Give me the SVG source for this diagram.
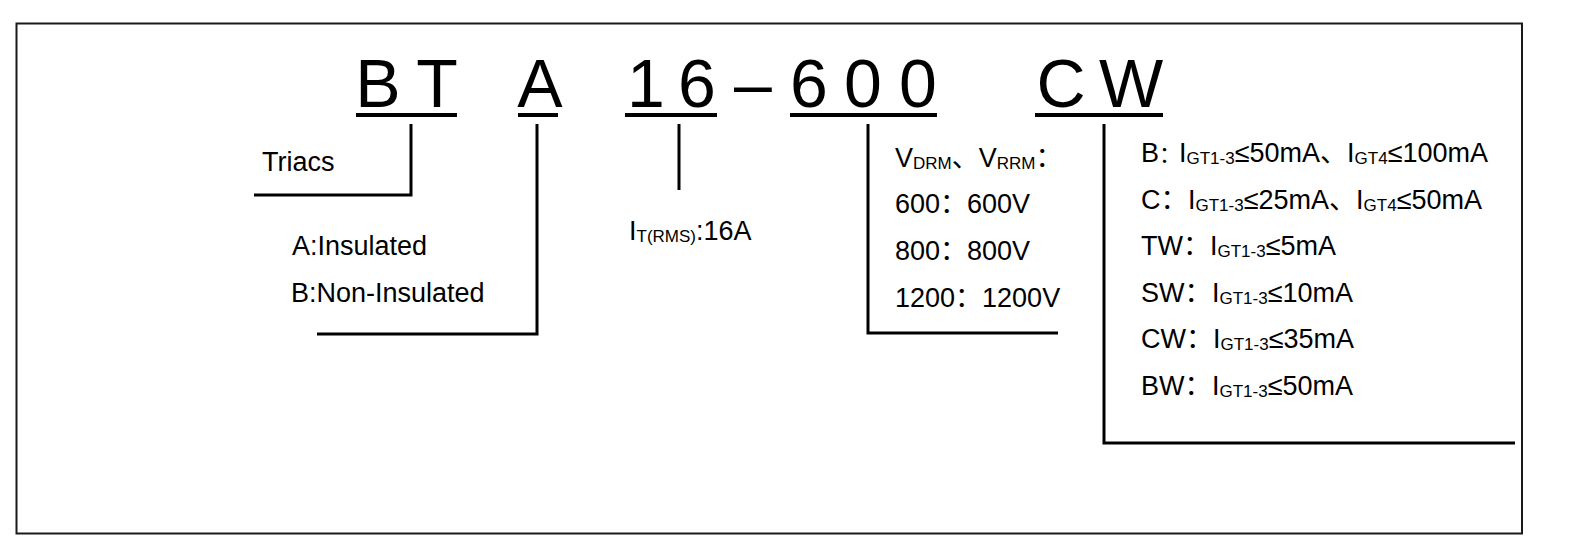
<svg xmlns="http://www.w3.org/2000/svg" width="1582" height="557" viewBox="0 0 1582 557">
<style>
.big{font-family:"Liberation Sans",Arial,sans-serif;font-size:68px;fill:#000;text-anchor:middle}
.t{font-family:"Liberation Sans","Noto Sans CJK SC",sans-serif;font-size:27px;fill:#000}
.s{font-size:17px}
.c{font-size:22px}
.ul{stroke:#000;stroke-width:4;fill:none}
.ln{stroke:#000;stroke-width:3;fill:none}
</style>
<rect x="16.5" y="23.5" width="1505.5" height="510" fill="#fff" stroke="#1a1a1a" stroke-width="2"/>
<g id="code">
<text class="big" x="378" y="107">B</text>
<text class="big" x="437" y="107">T</text>
<text class="big" x="540" y="107">A</text>
<text class="big" x="646" y="107">1</text>
<text class="big" x="697" y="107">6</text>
<text class="big" x="753" y="107">–</text>
<text class="big" x="809" y="107">6</text>
<text class="big" x="863" y="107">0</text>
<text class="big" x="918" y="107">0</text>
<text class="big" x="1061" y="107">C</text>
<text class="big" x="1131" y="107">W</text>
<line class="ul" x1="356" y1="115" x2="457" y2="115"/>
<line class="ul" x1="518" y1="115" x2="558" y2="115"/>
<line class="ul" x1="625" y1="115" x2="717" y2="115"/>
<line class="ul" x1="790" y1="115" x2="937" y2="115"/>
<line class="ul" x1="1035" y1="115" x2="1163" y2="115"/>
</g>
<g id="connectors">
<polyline class="ln" points="411,124 411,195 254,195"/>
<polyline class="ln" points="537,124 537,334 317,334"/>
<line class="ln" x1="679" y1="124" x2="679" y2="190"/>
<polyline class="ln" points="868,124 868,333 1058,333"/>
<polyline class="ln" points="1104,124 1104,443 1515,443"/>
</g>
<g id="node-bt">
<text class="t" x="262" y="170.5">Triacs</text>
</g>
<g id="node-a">
<text class="t" x="292" y="255">A:Insulated</text>
<text class="t" x="291" y="302">B:Non-Insulated</text>
</g>
<g id="node-16">
<text class="t" x="629" y="240">I<tspan class="s" dy="2">T(RMS)</tspan><tspan dy="-2">:16A</tspan></text>
</g>
<g id="node-600">
<text class="t" x="895" y="166.5">V<tspan class="s" dy="2">DRM</tspan><tspan dy="-2">、V</tspan><tspan class="s" dy="2">RRM</tspan><tspan dy="-2">：</tspan></text>
<text class="t" x="895" y="213">600：600V</text>
<text class="t" x="895" y="260">800：800V</text>
<text class="t" x="895" y="306.5">1200：1200V</text>
</g>
<g id="node-cw">
<text class="t" x="1141" y="162">B<tspan class="c">：</tspan><tspan x="1179">I</tspan><tspan class="s" dy="2">GT1-3</tspan><tspan dy="-2">≤50mA、I</tspan><tspan class="s" dy="2">GT4</tspan><tspan dy="-2">≤100mA</tspan></text>
<text class="t" x="1141" y="208.5">C：<tspan x="1188">I</tspan><tspan class="s" dy="2">GT1-3</tspan><tspan dy="-2">≤25mA、I</tspan><tspan class="s" dy="2">GT4</tspan><tspan dy="-2">≤50mA</tspan></text>
<text class="t" x="1141" y="255">TW：<tspan x="1210">I</tspan><tspan class="s" dy="2">GT1-3</tspan><tspan dy="-2">≤5mA</tspan></text>
<text class="t" x="1141" y="301.5">SW：<tspan x="1212">I</tspan><tspan class="s" dy="2">GT1-3</tspan><tspan dy="-2">≤10mA</tspan></text>
<text class="t" x="1141" y="348">CW：<tspan x="1213">I</tspan><tspan class="s" dy="2">GT1-3</tspan><tspan dy="-2">≤35mA</tspan></text>
<text class="t" x="1141" y="394.5">BW：<tspan x="1212">I</tspan><tspan class="s" dy="2">GT1-3</tspan><tspan dy="-2">≤50mA</tspan></text>
</g>
</svg>
